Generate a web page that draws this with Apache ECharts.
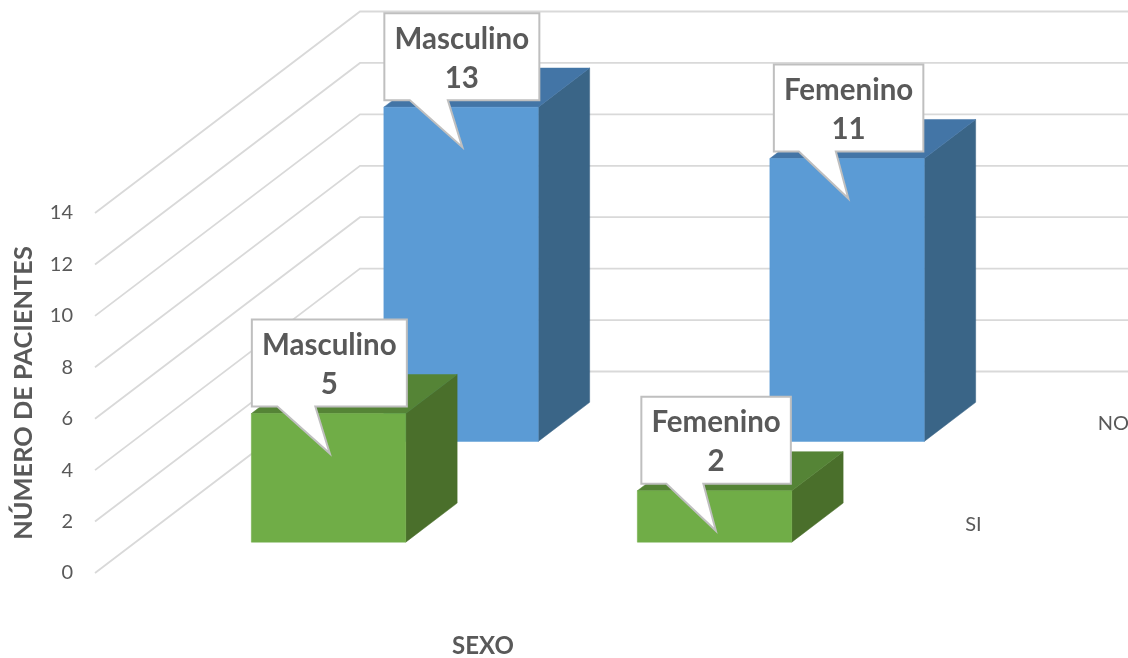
<!DOCTYPE html>
<html>
<head>
<meta charset="utf-8">
<style>html,body{margin:0;padding:0;background:#fff}#chart{width:1128px;height:658px}</style>
<script src="https://cdn.jsdelivr.net/npm/echarts@6/dist/echarts.min.js"></script>
</head>
<body>
<div id="chart"></div>
<script>
// Pacientes por sexo, agrupados por respuesta (SI / NO)
const categories = ['Masculino', 'Femenino'];
const depthRows = ['SI', 'NO'];
const siValues = [5, 2];
const noValues = [13, 11];
const yTicks = [0, 2, 4, 6, 8, 10, 12, 14];

// Oblique projection of the floor: one full depth unit moves a point by this vector
const DEPTH_X = 265;
const DEPTH_Y = -201.5;
const ROW_CENTRE = [0.25, 0.75];
const BAR_DEPTH = 0.194;
const BAR_RATIO = 0.4;

const TEXT = '#595959';
const FONT = 'Lato, "Open Sans", sans-serif';
const PALETTE = {
  NO: { front: '#5B9BD5', side: '#3A6587', top: '#4375A6' },
  SI: { front: '#70AD47', side: '#4A6F2B', top: '#558436' }
};
// Callout box extents measured from the front-top-left corner of its bar
const CALLOUT = {
  Masculino: { left: 0.5, right: 155.5, baseA: 26, baseB: 64 },
  Femenino: { left: 4, right: 153.5, baseA: 29, baseB: 66 }
};

function shift(p, depth) {
  return [p[0] + depth * DEPTH_X, p[1] + depth * DEPTH_Y];
}

function renderWall(params, api) {
  const front = api.coord([0, api.value(1)]);
  const bandWidth = api.size([1, 0])[0];
  const left = [front[0] - bandWidth / 2, front[1]];
  const back = shift(left, 1);
  const end = [back[0] + bandWidth * categories.length, back[1]];
  const style = { stroke: '#D9D9D9', lineWidth: 1.8, fill: null };
  return {
    type: 'polyline',
    shape: { points: [left, back, end] },
    style: style,
    silent: true
  };
}

function barFrame(api, row) {
  const top = api.coord([api.value(0), api.value(1)]);
  const base = api.coord([api.value(0), 0]);
  const w = api.size([1, 0])[0] * BAR_RATIO;
  const d0 = ROW_CENTRE[row] - BAR_DEPTH / 2;
  return {
    tl: shift([top[0] - w / 2, top[1]], d0),
    tr: shift([top[0] + w / 2, top[1]], d0),
    bl: shift([base[0] - w / 2, base[1]], d0),
    br: shift([base[0] + w / 2, base[1]], d0)
  };
}

function makeBarRenderer(row, colors) {
  return function (params, api) {
    const f = barFrame(api, row);
    const tlb = shift(f.tl, BAR_DEPTH);
    const trb = shift(f.tr, BAR_DEPTH);
    const brb = shift(f.br, BAR_DEPTH);
    const poly = (points, fill) => ({
      type: 'polygon',
      shape: { points: points },
      style: { fill: fill, stroke: fill, lineWidth: 0.5 }
    });
    return {
      type: 'group',
      children: [
        poly([f.tr, trb, brb, f.br], colors.side),
        poly([f.tl, tlb, trb, f.tr], colors.top),
        poly([f.tl, f.tr, f.br, f.bl], colors.front)
      ]
    };
  };
}

function makeCalloutRenderer(row, values) {
  return function (params, api) {
    const f = barFrame(api, row);
    const name = categories[api.value(0)];
    const c = CALLOUT[name];
    const x = f.tl[0], y = f.tl[1];
    const top = y - 94, bottom = y - 7;
    const points = [
      [x + c.left, top], [x + c.right, top], [x + c.right, bottom],
      [x + c.baseB, bottom], [x + 78.5, y + 40], [x + c.baseA, bottom], [x + c.left, bottom]
    ];
    const cx = x + (c.left + c.right) / 2;
    const label = (text, ty) => ({
      type: 'text',
      style: {
        text: text, x: cx, y: ty, align: 'center', verticalAlign: 'middle',
        font: 'bold 29.5px ' + FONT, fill: TEXT
      }
    });
    return {
      type: 'group',
      children: [
        {
          type: 'polygon',
          shape: { points: points },
          style: { fill: '#fff', stroke: '#BFBFBF', lineWidth: 2, lineJoin: 'miter' }
        },
        label(name, y - 68),
        label(String(values[params.dataIndex]), y - 29)
      ]
    };
  };
}

// Row names sit just past the right end of the floor
function renderRowLabel(params, api) {
  const d = ROW_CENTRE[params.dataIndex];
  const base = api.coord([categories.length - 1, 0]);
  const bandWidth = api.size([1, 0])[0];
  const p = shift([base[0] + bandWidth / 2, base[1]], d);
  return {
    type: 'text',
    style: {
      text: depthRows[params.dataIndex], x: p[0] + 32, y: p[1] + 2,
      align: 'left', verticalAlign: 'middle', font: '20px ' + FONT, fill: TEXT
    }
  };
}

const pairs = values => values.map((v, i) => [i, v]);

const chart = echarts.init(document.getElementById('chart'), null, { renderer: 'canvas' });
chart.setOption({
  animation: false,
  backgroundColor: '#fff',
  grid: { left: 95, top: 213, width: 772, height: 360, containLabel: false, outerBoundsMode: 'none' },
  xAxis: {
    type: 'category',
    data: categories,
    axisLine: { show: false },
    axisTick: { show: false },
    axisLabel: { show: false },
    splitLine: { show: false },
    name: 'SEXO',
    nameLocation: 'middle',
    nameGap: 61,
    nameTextStyle: { color: TEXT, fontFamily: FONT, fontWeight: 'bold', fontSize: 24, padding: [0, 0, 0, 4] }
  },
  yAxis: {
    type: 'value',
    min: 0,
    max: 14,
    interval: 2,
    axisLine: { show: false },
    axisTick: { show: false },
    splitLine: { show: false },
    axisLabel: { color: TEXT, fontFamily: FONT, fontSize: 20, margin: 22, padding: [6, 0, 0, 0] },
    name: 'NÚMERO DE PACIENTES',
    nameLocation: 'middle',
    nameGap: 59,
    nameTextStyle: { color: TEXT, fontFamily: FONT, fontWeight: 'bold', fontSize: 25.4 }
  },
  series: [
    {
      name: 'Cuadrícula', type: 'custom', z: 1, silent: true, clip: false,
      data: yTicks.map(t => [0, t]), renderItem: renderWall
    },
    {
      name: 'NO', type: 'custom', z: 2, clip: false,
      data: pairs(noValues), renderItem: makeBarRenderer(1, PALETTE.NO)
    },
    {
      name: 'SI', type: 'custom', z: 3, clip: false,
      data: pairs(siValues), renderItem: makeBarRenderer(0, PALETTE.SI)
    },
    {
      name: 'Etiquetas NO', type: 'custom', z: 4, clip: false,
      data: pairs(noValues), renderItem: makeCalloutRenderer(1, noValues)
    },
    {
      name: 'Etiquetas SI', type: 'custom', z: 5, clip: false,
      data: pairs(siValues), renderItem: makeCalloutRenderer(0, siValues)
    },
    {
      name: 'Filas', type: 'custom', z: 6, silent: true, clip: false,
      data: depthRows.map((r, i) => [i, 0]), renderItem: renderRowLabel
    }
  ]
});
</script>
</body>
</html>
